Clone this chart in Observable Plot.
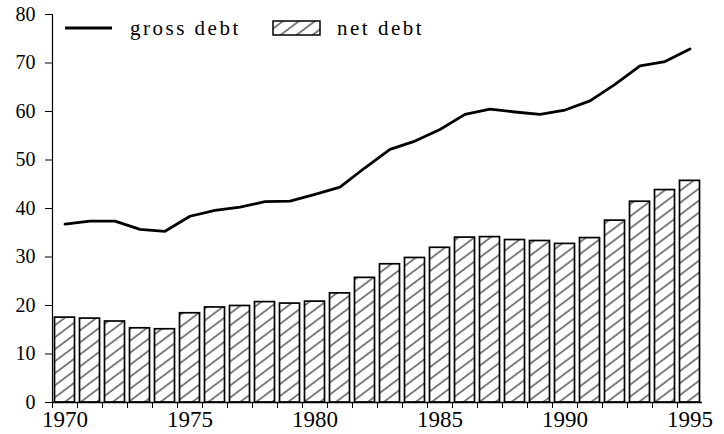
<!DOCTYPE html>
<html><head><meta charset="utf-8">
<script src="https://cdn.jsdelivr.net/npm/d3@7"></script>
<script src="https://cdn.jsdelivr.net/npm/@observablehq/plot@0.6"></script>
<style>
body{margin:0;background:#fff}
#chart{position:relative;width:724px;height:434px}
#chart svg, #chart svg text{font-family:"Liberation Serif","Times New Roman",serif !important}
</style>
</head><body><div id="chart"></div>
<script>
const years = [1970,1971,1972,1973,1974,1975,1976,1977,1978,1979,1980,1981,1982,1983,1984,1985,1986,1987,1988,1989,1990,1991,1992,1993,1994,1995];
const grossDebt = [36.8,37.4,37.4,35.7,35.3,38.4,39.6,40.3,41.4,41.5,42.9,44.4,48.4,52.2,53.9,56.3,59.4,60.5,59.9,59.4,60.3,62.2,65.6,69.4,70.3,72.9];
const netDebt = [17.5,17.3,16.7,15.3,15.1,18.4,19.6,19.9,20.7,20.4,20.8,22.5,25.7,28.5,29.8,31.9,34.0,34.1,33.5,33.3,32.7,33.9,37.5,41.4,43.8,45.7];
const labelYears = [1970,1975,1980,1985,1990,1995];
const yTicks = [0,10,20,30,40,50,60,70,80];
const legendLabels = ["gross debt","net debt"];

const data = years.map((y,i)=>({year:y, gross:grossDebt[i], net:netDebt[i]}));
const edges = years.map(y=>y-0.5);
const x0 = years[0]-0.5, x1 = years[years.length-1]+0.5;

const plot = Plot.plot({
  width:724, height:434,
  marginLeft:52, marginRight:22, marginTop:14, marginBottom:32,
  style:{fontSize:"20px", background:"white", color:"black"},
  x:{type:"linear", domain:[x0,x1], label:null},
  y:{domain:[0,80], label:null},
  marks:[
    Plot.rectY(data,{x1:d=>d.year-0.4, x2:d=>d.year+0.4, y1:0, y2:"net", fill:"url(#hatch)", stroke:"black", strokeWidth:1.7}),
    Plot.line(data,{x:"year", y:"gross", stroke:"black", strokeWidth:2.8}),
    Plot.ruleY([0],{stroke:"black", strokeWidth:1.5}),
    Plot.ruleX([x0],{y1:0, y2:80, stroke:"black", strokeWidth:1.2}),
    Plot.axisY({ticks:yTicks, tickSize:7, tickPadding:10, fontSize:20, stroke:"black", label:null}),
    Plot.axisX({ticks:edges, tickSize:6, tickFormat:()=>"", stroke:"black", label:null}),
    Plot.axisX({ticks:labelYears, tickSize:0, tickPadding:8, tickFormat:d=>String(d), fontSize:23, label:null})
  ]
});

const svg = d3.select(plot);
const defs = svg.insert("defs",":first-child");
const pat = defs.append("pattern").attr("id","hatch").attr("patternUnits","userSpaceOnUse")
  .attr("width",10).attr("height",9.6).attr("patternTransform","rotate(-37)");
pat.append("rect").attr("width",10).attr("height",9.6).attr("fill","white");
pat.append("line").attr("x1",0).attr("x2",10).attr("y1",4.8).attr("y2",4.8).attr("stroke","black").attr("stroke-width",1);

// legend
const lg = svg.append("g").attr("font-size",21).attr("letter-spacing","2.5px").attr("text-anchor","start");
lg.append("line").attr("x1",65).attr("x2",112).attr("y1",28).attr("y2",28).attr("stroke","black").attr("stroke-width",2.8);
lg.append("text").attr("x",130).attr("y",35).text(legendLabels[0]);
lg.append("rect").attr("x",273).attr("y",21).attr("width",47).attr("height",14).attr("fill","url(#hatch)").attr("stroke","black").attr("stroke-width",1.5);
lg.append("text").attr("x",337).attr("y",35).text(legendLabels[1]);

document.getElementById("chart").appendChild(plot);
</script>
</body></html>
